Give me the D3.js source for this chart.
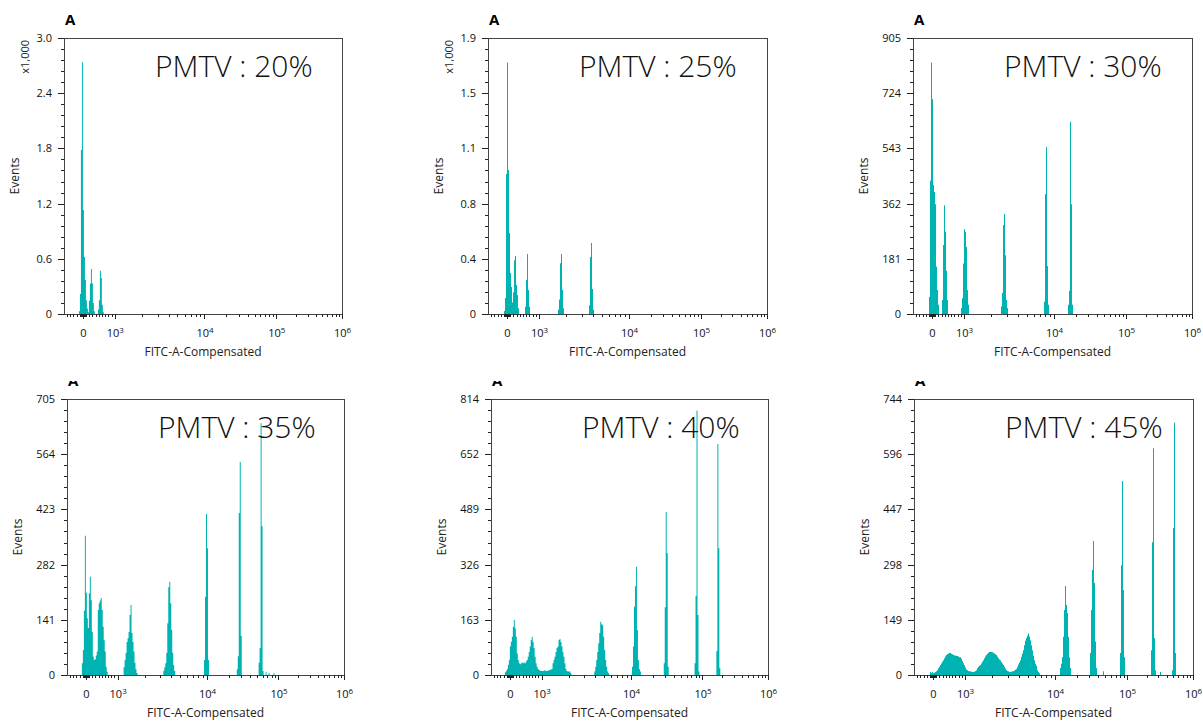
<!DOCTYPE html>
<html>
<head>
<meta charset="utf-8">
<script src="https://cdn.jsdelivr.net/npm/d3@7"></script>
<style>
  body { margin: 0; background: #fff; }
  text { font-family: "Open Sans", "Noto Sans", sans-serif; fill: #222; }
  .tick line { stroke: #222; }
</style>
</head>
<body>
<svg id="chart"></svg>
<script>
var svgWidth = 1203;
var svgHeight = 721;

// histogram channels span the plot width
var channelCount = 279;

// x axis break points (value -> channel); below 10^3 the axis is linear
var xBreakValues = [-600, 0, 1e3, 1e4, 1e5, 1e6];
var xBreakChannels = [0, 19, 51, 141, 213, 279];
var xMajorTicks = [0, 1e3, 1e4, 1e5, 1e6];
var xMajorLabels = ["0", "10|3", "10|4", "10|5", "10|6"];

var titles = ["PMTV : 20%", "PMTV : 25%", "PMTV : 30%", "PMTV : 35%", "PMTV : 40%", "PMTV : 45%"];
var yMaxes = [3000, 1900, 905, 705, 814, 744];
var yTickLabels = [
  ["0", "0.6", "1.2", "1.8", "2.4", "3.0"],
  ["0", "0.4", "0.8", "1.1", "1.5", "1.9"],
  ["0", "181", "362", "543", "724", "905"],
  ["0", "141", "282", "423", "564", "705"],
  ["0", "163", "326", "489", "652", "814"],
  ["0", "149", "298", "447", "596", "744"]
];
var yMultipliers = ["x1,000", "x1,000", "", "", "", ""];

// histogram peaks: [first channel, counts per channel]
var hist20 = [
  [15, [30, 217, 1783, 2736, 1130, 620, 370, 150, 60, 20]],
  [25, [145, 330, 490, 335, 120, 30]],
  [34, [50, 150, 470, 390, 100, 20]]
];
var hist25 = [
  [16, [20, 110, 963, 1732, 991, 557, 282, 186, 80, 150, 370, 400, 200, 130, 40]],
  [37, [50, 234, 413, 165, 50]],
  [70, [30, 100, 350, 413, 165, 40]],
  [101, [60, 392, 488, 172, 30]]
];
var hist30 = [
  [16, [56, 437, 825, 704, 423, 400, 360, 155, 79, 30]],
  [29, [46, 226, 357, 270, 142, 46]],
  [48, [20, 52, 166, 278, 270, 220, 79, 30]],
  [88, [25, 69, 292, 328, 193, 46, 20]],
  [131, [40, 393, 548, 157, 30]],
  [155, [30, 76, 630, 360, 30]]
];
var hist35 = [
  [15, [30, 64, 164, 356, 210, 145, 120, 209, 251, 191, 110, 47, 38, 40, 50, 60, 166, 183, 190, 197, 166, 123, 89, 60, 21, 8]],
  [57, [20, 38, 56, 84, 94, 110, 153, 179, 107, 84, 60, 31, 15, 5]],
  [97, [10, 20, 30, 56, 132, 224, 238, 183, 115, 56, 25, 10]],
  [138, [38, 200, 411, 324, 38]],
  [171, [15, 48, 414, 544, 100]],
  [193, [31, 69, 643, 380, 10]],
  [200, [8]], [203, [6]], [208, [5]]
];
var hist40 = [
  [14, [8, 12, 18, 30, 44, 84, 98, 113, 142, 162, 138, 113, 64, 44, 35, 32, 35, 37, 35, 37, 35, 40, 44, 54, 68, 84, 103, 113, 97, 80, 54, 35, 24, 18, 15, 13,
        12, 12, 12, 13, 14, 12, 12, 13, 14, 15, 16, 18, 35, 44, 54, 68, 80, 84, 103, 106, 97, 84, 68, 54, 35, 18, 12, 10, 10, 10, 5]],
  [104, [10, 24, 44, 68, 94, 124, 157, 150, 147, 113, 74, 44, 24, 10, 5]],
  [142, [24, 84, 201, 262, 319, 133, 44, 18, 10]],
  [174, [35, 200, 481, 360, 24]],
  [205, [35, 233, 780, 177, 10]],
  [227, [71, 681, 374, 20]]
];
var hist45 = [
  [16, [8, 5, 8, 5, 6, 8, 10, 13, 18, 22, 27, 31, 36, 40, 45, 50, 54, 56, 58, 59, 59, 57, 56, 54, 53, 52, 52, 51, 50, 48, 48, 44, 38, 32, 26, 20, 15, 13, 11, 10,
        10, 9, 8, 8, 9, 11, 13, 18, 22, 25, 27, 31, 36, 40, 45, 50, 54, 57, 60, 62, 63, 62, 61, 60, 58, 56, 54, 50, 45, 42, 40, 35, 31, 27, 22, 17, 13, 11, 10, 8,
        8, 9, 10, 10, 12, 14, 16, 22, 28, 34, 40, 49, 58, 67, 80, 92, 100, 106, 112, 104, 94, 80, 67, 52, 40, 30, 25, 13, 8, 5]],
  [146, [19, 30, 48, 103, 175, 240, 189, 167, 103, 48, 19]],
  [176, [59, 175, 283, 361, 248, 90, 19]],
  [189, [10]],
  [206, [59, 296, 523, 229, 48]],
  [237, [67, 358, 611, 100, 13]],
  [246, [8]],
  [258, [13, 396, 680, 59]]
];
var histograms = [hist20, hist25, hist30, hist35, hist40, hist45];

// panel frames on the page
var layout = [
  { left: 64, top: 38, width: 278 },
  { left: 488, top: 38, width: 279 },
  { left: 913, top: 38, width: 279 },
  { left: 67, top: 399, width: 277 },
  { left: 491, top: 399, width: 277 },
  { left: 914, top: 399, width: 279 }
];
var plotHeight = 276;

// display coordinate: linear below 10^3, one unit per decade above
function toDisplay(v) {
  return v <= 1000 ? v / 1000 : 1 + Math.log10(v / 1000);
}

// minor tick values on the x axis
var xMinorTicks = [];
for (var k = -500; k < 1000; k += 100) if (k !== 0) xMinorTicks.push(k);
for (var k = -90; k <= 90; k += 10) xMinorTicks.push(k);
[1e3, 1e4, 1e5].forEach(function(dec) {
  for (var m = 2; m <= 9; m++) xMinorTicks.push(m * dec);
});

var svg = d3.select("#chart")
  .attr("width", svgWidth)
  .attr("height", svgHeight)
  .style("background", "#fff");

svg.append("defs").append("clipPath")
  .attr("id", "clipA")
  .append("rect")
  .attr("x", 0).attr("y", 381)
  .attr("width", svgWidth).attr("height", 30);

layout.forEach(function(p, idx) {
  var h = plotHeight;
  var w = p.width;
  var g = svg.append("g").attr("transform", `translate(${p.left}, ${p.top})`);

  var xPx = d3.scaleLinear().domain([0, channelCount]).range([0, w]);
  var xAxisScale = d3.scaleLinear()
    .domain(xBreakValues.map(toDisplay))
    .range(xBreakChannels.map(xPx));
  var y = d3.scaleLinear().domain([0, yMaxes[idx]]).range([h, 0]);

  // expand peaks into the channel histogram
  var counts = new Array(channelCount).fill(0);
  histograms[idx].forEach(function(seg) {
    seg[1].forEach(function(c, j) { counts[seg[0] + j] = c; });
  });
  counts.push(0);

  var area = d3.area()
    .x((d, i) => xPx(i))
    .y0(h)
    .y1(d => y(d))
    .curve(d3.curveStepAfter);

  g.append("path")
    .datum(counts)
    .attr("d", area)
    .attr("fill", "#00b3b3");

  // frame
  g.append("rect")
    .attr("x", 0).attr("y", 0)
    .attr("width", w).attr("height", h)
    .attr("fill", "none")
    .attr("stroke", "#444")
    .attr("stroke-width", 1)
    .attr("shape-rendering", "crispEdges");

  // y axis
  var yMajor = d3.range(6).map(i => yMaxes[idx] * i / 5);
  var yMinor = d3.range(26).map(i => yMaxes[idx] * i / 25);
  g.append("g")
    .call(d3.axisLeft(y).tickValues(yMinor).tickSize(3).tickFormat(""))
    .call(a => a.select(".domain").remove())
    .attr("shape-rendering", "crispEdges");
  g.append("g")
    .call(d3.axisLeft(y).tickValues(yMajor).tickSize(6).tickPadding(6)
      .tickFormat((d, i) => yTickLabels[idx][i]))
    .call(a => a.select(".domain").remove())
    .call(a => a.selectAll("line").attr("shape-rendering", "crispEdges"))
    .call(a => a.selectAll("text").style("font-size", "11px").style("fill", "#111"));

  // x axis
  g.append("g")
    .attr("transform", `translate(0, ${h})`)
    .call(d3.axisBottom(xAxisScale).tickValues(xMinorTicks.map(toDisplay)).tickSize(3).tickFormat(""))
    .call(a => a.select(".domain").remove())
    .attr("shape-rendering", "crispEdges");
  var xa = g.append("g")
    .attr("transform", `translate(0, ${h})`)
    .call(d3.axisBottom(xAxisScale).tickValues(xMajorTicks.map(toDisplay)).tickSize(5).tickPadding(10)
      .tickFormat((d, i) => xMajorLabels[i]))
    .call(a => a.select(".domain").remove())
    .call(a => a.selectAll("line").attr("shape-rendering", "crispEdges"));
  xa.selectAll("text").style("font-size", "11px").style("fill", "#111").each(function() {
    var parts = d3.select(this).text().split("|");
    var t = d3.select(this).text(parts[0]);
    if (parts[1]) {
      t.append("tspan").attr("dy", "-0.45em").style("font-size", "8px").text(parts[1]);
    }
  });

  // labels
  g.append("text")
    .attr("transform", `translate(-49, ${h / 2}) rotate(-90)`)
    .attr("text-anchor", "middle")
    .attr("dy", "0.35em")
    .style("font-size", "12px")
    .text("Events");

  if (yMultipliers[idx]) {
    g.append("text")
      .attr("transform", `translate(-39, 2) rotate(-90)`)
      .attr("text-anchor", "end")
      .attr("dy", "0.35em")
      .style("font-size", "11px")
      .text(yMultipliers[idx]);
  }

  g.append("text")
    .attr("x", w / 2)
    .attr("y", h + 42)
    .attr("text-anchor", "middle")
    .style("font-size", "12px")
    .text("FITC-A-Compensated");

  g.append("text")
    .attr("x", 91)
    .attr("y", 39)
    .style("font-size", "30px")
    .style("font-weight", 300)
    .style("fill", "#111")
    .text(titles[idx]);

  var aLabel = svg.append("text")
    .attr("x", p.left + 1)
    .attr("y", p.top - 13)
    .style("font-size", "15px")
    .style("font-weight", "bold")
    .style("fill", "#000")
    .text("A");
  if (idx >= 3) aLabel.attr("clip-path", "url(#clipA)");
});
</script>
</body>
</html>
